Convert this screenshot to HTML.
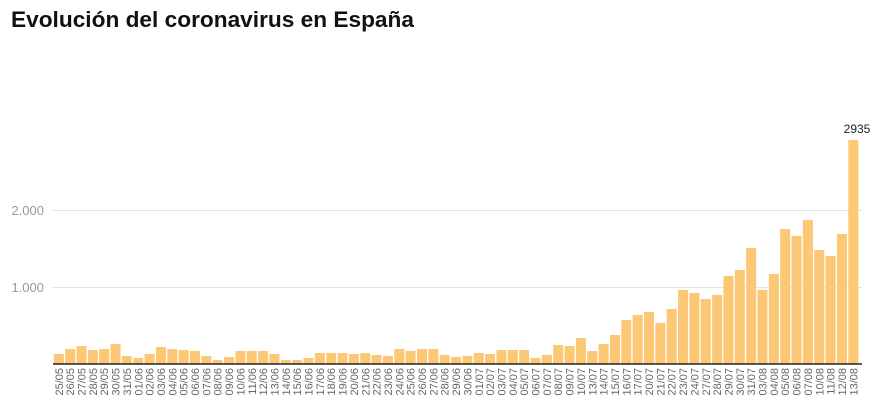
<!DOCTYPE html>
<html><head><meta charset="utf-8"><style>
html,body{margin:0;padding:0;background:#fff;width:879px;height:414px;overflow:hidden}
svg{display:block}
</style></head><body>
<svg id="s" width="879" height="414" xmlns="http://www.w3.org/2000/svg" font-family="Liberation Sans, sans-serif">
<text x="11" y="27" font-size="22" font-weight="bold" fill="#111" textLength="403" lengthAdjust="spacingAndGlyphs">Evolución del coronavirus en España</text>
<line x1="53" y1="210.5" x2="862" y2="210.5" stroke="#e3e3e3" stroke-width="1"/>
<line x1="53" y1="287.5" x2="862" y2="287.5" stroke="#e3e3e3" stroke-width="1"/>
<text x="44" y="215" font-size="13" fill="#999" text-anchor="end">2.000</text>
<text x="44" y="292" font-size="13" fill="#999" text-anchor="end">1.000</text>
<g id="bars"></g>
<line x1="53" y1="364" x2="862" y2="364" stroke="#222" stroke-width="1.5"/>
<text x="857" y="133" font-size="12" fill="#222" text-anchor="middle">2935</text>
</svg>
<script>
var d=[["25/05",10],["26/05",15],["27/05",18],["28/05",14],["29/05",15],["30/05",20],["31/05",8],["01/06",6],["02/06",10],["03/06",17],["04/06",15],["05/06",14],["06/06",13],["07/06",8],["08/06",4],["09/06",7],["10/06",13],["11/06",13],["12/06",13],["13/06",10],["14/06",4],["15/06",4],["16/06",6],["17/06",11],["18/06",11],["19/06",11],["20/06",10],["21/06",11],["22/06",9],["23/06",8],["24/06",15],["25/06",13],["26/06",15],["27/06",15],["28/06",9],["29/06",7],["30/06",8],["01/07",11],["02/07",10],["03/07",14],["04/07",14],["05/07",14],["06/07",6],["07/07",9],["08/07",19],["09/07",18],["10/07",26],["13/07",13],["14/07",20],["15/07",29],["16/07",44],["17/07",49],["20/07",52],["21/07",41],["22/07",55],["23/07",74],["24/07",71],["27/07",65],["28/07",69],["29/07",88],["30/07",94],["31/07",116],["03/08",74],["04/08",90],["05/08",135],["06/08",128],["07/08",144],["10/08",114],["11/08",108],["12/08",130],["13/08",224]];
var g=document.getElementById('bars'),ns='http://www.w3.org/2000/svg',h='';
var x0=53.8,p=11.35;
d.forEach(function(e,i){var x=x0+i*p;
h+='<rect x="'+x.toFixed(2)+'" y="'+(364-e[1])+'" width="10" height="'+e[1]+'" fill="#fcc875"/>';
var cx=x+5+4;
h+='<text transform="translate('+cx.toFixed(2)+',368) rotate(-90)" font-size="11" fill="#666" text-anchor="end">'+e[0]+'</text>';});
g.innerHTML=h;
</script>
</body></html>
